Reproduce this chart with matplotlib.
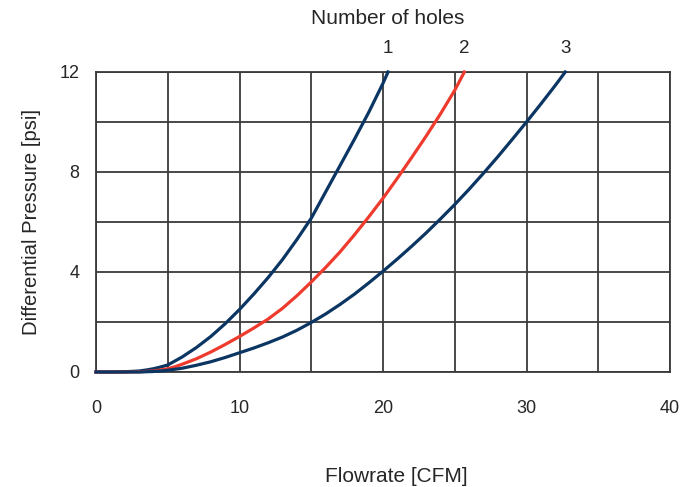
import matplotlib
matplotlib.use("Agg")
import matplotlib.pyplot as plt

plt.rcParams["font.family"] = ["Liberation Sans", "DejaVu Sans"]

# Differential pressure [psi] vs flowrate [CFM], one curve per hole count
FLOW_1 = [0, 1, 2, 3, 3.5, 4, 4.5, 5, 6, 7, 8, 9, 10, 11, 12, 13, 14, 15, 16, 17, 18,
          19, 20, 20.35]
PSI_1 = [0, 0, 0.01, 0.04, 0.08, 0.13, 0.2, 0.28, 0.6, 0.98, 1.42, 1.93, 2.5, 3.12,
         3.78, 4.5, 5.3, 6.15, 7.2, 8.25, 9.3, 10.38, 11.55, 12]

FLOW_2 = [0, 2, 3, 4, 4.5, 5, 5.5, 6, 7, 8, 9, 10, 11, 12, 13, 14, 15, 16, 17, 18, 19,
          20, 21, 22, 23, 24, 25, 25.67]
PSI_2 = [0, 0, 0.01, 0.04, 0.08, 0.13, 0.21, 0.31, 0.53, 0.8, 1.1, 1.42, 1.76, 2.12,
         2.55, 3.05, 3.6, 4.18, 4.8, 5.48, 6.2, 6.95, 7.75, 8.58, 9.43, 10.32, 11.27, 12]

FLOW_3 = [0, 3, 4, 4.5, 5, 6, 7, 8, 9, 10, 11, 12, 13, 14, 15, 16, 17, 18, 19, 20, 21,
          22, 23, 24, 25, 26, 27, 28, 29, 30, 31, 32, 32.7]
PSI_3 = [0, 0, 0.02, 0.04, 0.07, 0.15, 0.27, 0.41, 0.58, 0.77, 0.96, 1.17, 1.4, 1.67,
         1.98, 2.32, 2.7, 3.11, 3.56, 4.03, 4.52, 5.03, 5.56, 6.12, 6.7, 7.31, 7.95,
         8.61, 9.3, 10.0, 10.72, 11.46, 12]

HOLES = ["1", "2", "3"]
NAVY = "#0b3563"
RED = "#ee3b2d"
INK = "#262626"
GRID = "#3a3a3a"

fig = plt.figure(figsize=(6.96, 4.87), dpi=100)
ax = fig.add_axes([96 / 696, 1 - 372 / 487, (670 - 96) / 696, 300 / 487])

series = [(FLOW_1, PSI_1, NAVY), (FLOW_2, PSI_2, RED), (FLOW_3, PSI_3, NAVY)]
for (x, y, c), lab in zip(series, HOLES):
    ax.plot(x, y, color=c, lw=2.3, solid_joinstyle="round", zorder=3, clip_on=False)
    ax.text(x[-1], 12.93, lab, ha="center", va="center", fontsize=13.5, color=INK)

ax.set_xlim(0, 40)
ax.set_ylim(0, 12)
ax.set_xticks([0, 10, 20, 30, 40])
ax.set_xticks(range(0, 41, 5), minor=True)
ax.set_yticks([0, 4, 8, 12])
ax.set_yticks(range(0, 13, 2), minor=True)
ax.grid(which="both", color=GRID, lw=1.3, zorder=1)
ax.tick_params(which="both", length=0, labelsize=13, colors=INK)
ax.tick_params(axis="x", pad=20)
ax.tick_params(axis="y", pad=12)
for s in ax.spines.values():
    s.set_color(GRID)
    s.set_linewidth(1.3)

ax.set_ylabel("Differential Pressure [psi]", fontsize=14.6, color=INK, labelpad=13)
fig.text(396 / 696, 1 - 476 / 487, "Flowrate [CFM]", ha="center", va="center",
         fontsize=15, color=INK)
fig.text(388 / 696, 1 - 19 / 487, "Number of holes", ha="center", va="center",
         fontsize=15, color=INK)

fig.savefig("out.png", dpi=100)
